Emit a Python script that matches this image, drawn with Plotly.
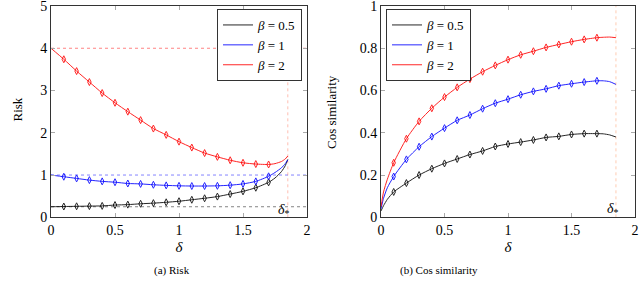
import plotly.graph_objects as go

# ---------------- data ----------------
betas = ["0.5", "1", "2"]
colors = ["#000000", "#0000ff", "#ff0000"]
delta_star = 1.85

# simulation points (markers)
delta_sim = [0.1, 0.2, 0.3, 0.4, 0.5, 0.6, 0.7, 0.8, 0.9, 1.0,
             1.1, 1.2, 1.3, 1.4, 1.5, 1.6, 1.7]
risk_sim_05 = [0.255, 0.26, 0.265, 0.27, 0.29, 0.30, 0.32, 0.335, 0.355, 0.38,
               0.415, 0.45, 0.49, 0.55, 0.614, 0.70, 0.827]
risk_sim_1 = [0.96, 0.92, 0.88, 0.85, 0.83, 0.80, 0.79, 0.77, 0.755, 0.745,
              0.74, 0.74, 0.745, 0.76, 0.79, 0.85, 0.97]
risk_sim_2 = [3.74, 3.46, 3.20, 2.94, 2.71, 2.50, 2.30, 2.10, 1.95, 1.79,
              1.65, 1.52, 1.43, 1.35, 1.29, 1.26, 1.25]
cos_sim_05 = [0.12, 0.162, 0.20, 0.23, 0.255, 0.276, 0.297, 0.314, 0.335, 0.347,
              0.356, 0.366, 0.378, 0.383, 0.392, 0.396, 0.396]
cos_sim_1 = [0.193, 0.274, 0.334, 0.382, 0.422, 0.459, 0.484, 0.514, 0.540, 0.559,
             0.58, 0.596, 0.608, 0.623, 0.632, 0.640, 0.646]
cos_sim_2 = [0.258, 0.372, 0.454, 0.516, 0.569, 0.615, 0.654, 0.689, 0.719, 0.746,
             0.769, 0.786, 0.804, 0.818, 0.831, 0.842, 0.85]

# theory curves (lines)
delta_risk_curve = [0.0, 0.1, 0.2, 0.3, 0.4, 0.5, 0.6, 0.7, 0.8, 0.9, 1.0,
                    1.1, 1.2, 1.3, 1.4, 1.5, 1.6, 1.7, 1.75, 1.8, 1.83, 1.85]
risk_curve_05 = [0.25, 0.255, 0.26, 0.265, 0.27, 0.29, 0.30, 0.32, 0.335, 0.355, 0.38,
                 0.415, 0.45, 0.49, 0.55, 0.614, 0.70, 0.827, 0.93, 1.08, 1.22, 1.37]
risk_curve_1 = [1.0, 0.96, 0.92, 0.88, 0.85, 0.83, 0.80, 0.79, 0.77, 0.755, 0.745,
                0.74, 0.74, 0.745, 0.76, 0.79, 0.85, 0.97, 1.06, 1.17, 1.27, 1.36]
risk_curve_2 = [4.0, 3.74, 3.46, 3.20, 2.94, 2.71, 2.50, 2.30, 2.10, 1.95, 1.79,
                1.65, 1.52, 1.43, 1.35, 1.29, 1.26, 1.25, 1.27, 1.32, 1.38, 1.45]

delta_cos_curve = [0.0, 0.02, 0.05, 0.1, 0.2, 0.3, 0.4, 0.5, 0.6, 0.7, 0.8, 0.9, 1.0,
                   1.1, 1.2, 1.3, 1.4, 1.5, 1.6, 1.7, 1.75, 1.8, 1.85]
cos_curve_05 = [0.03, 0.055, 0.085, 0.12, 0.162, 0.20, 0.23, 0.255, 0.276, 0.297, 0.314,
                0.335, 0.347, 0.356, 0.366, 0.378, 0.383, 0.392, 0.396, 0.396, 0.395, 0.39, 0.38]
cos_curve_1 = [0.04, 0.09, 0.14, 0.193, 0.274, 0.334, 0.382, 0.422, 0.459, 0.484, 0.514,
               0.540, 0.559, 0.58, 0.596, 0.608, 0.623, 0.632, 0.640, 0.646, 0.646, 0.642, 0.629]
cos_curve_2 = [0.05, 0.12, 0.18, 0.258, 0.372, 0.454, 0.516, 0.569, 0.615, 0.654, 0.689,
               0.719, 0.746, 0.769, 0.786, 0.804, 0.818, 0.831, 0.842, 0.85, 0.852, 0.853, 0.85]

risk_levels = [0.25, 1.0, 4.0]   # beta^2 reference lines

x_ticks = [0, 0.5, 1, 1.5, 2]
risk_ticks = [0, 1, 2, 3, 4, 5]
cos_ticks = [0, 0.2, 0.4, 0.6, 0.8, 1]
cos_ticklabels = ["0", "0.2", "0.4", "0.6", "0.8", "1"]

# ---------------- figure ----------------
FONT = "Liberation Serif, DejaVu Serif, serif"
fig = go.Figure()

risk_sims = [risk_sim_05, risk_sim_1, risk_sim_2]
risk_curves = [risk_curve_05, risk_curve_1, risk_curve_2]
cos_sims = [cos_sim_05, cos_sim_1, cos_sim_2]
cos_curves = [cos_curve_05, cos_curve_1, cos_curve_2]

# reference dotted lines
for lvl, c in zip(risk_levels, colors):
    fig.add_trace(go.Scatter(x=[0, 2], y=[lvl, lvl], mode="lines",
                             line=dict(color=c, width=0.8, dash="dot"),
                             opacity=0.6, showlegend=False, hoverinfo="skip",
                             xaxis="x", yaxis="y"))
fig.add_trace(go.Scatter(x=[delta_star, delta_star], y=[0, max(risk_levels)], mode="lines",
                         line=dict(color="#ff6040", width=0.8, dash="dot"), opacity=0.5,
                         showlegend=False, hoverinfo="skip", xaxis="x", yaxis="y"))
fig.add_trace(go.Scatter(x=[delta_star, delta_star], y=[0, 1], mode="lines",
                         line=dict(color="#ff8040", width=0.8, dash="dot"), opacity=0.5,
                         showlegend=False, hoverinfo="skip", xaxis="x2", yaxis="y2"))

for i in range(3):
    name = "<i>β</i> = " + betas[i]
    fig.add_trace(go.Scatter(x=delta_risk_curve, y=risk_curves[i], mode="lines",
                             line=dict(color=colors[i], width=1, shape="spline", smoothing=0.6),
                             opacity=0.85, name=name, legend="legend", xaxis="x", yaxis="y"))
    fig.add_trace(go.Scatter(x=delta_sim, y=risk_sims[i], mode="markers",
                             marker=dict(symbol="diamond-tall-open", size=5,
                                         color=colors[i], line=dict(width=1, color=colors[i])),
                             opacity=0.85, showlegend=False, xaxis="x", yaxis="y"))
    fig.add_trace(go.Scatter(x=delta_cos_curve, y=cos_curves[i], mode="lines",
                             line=dict(color=colors[i], width=1, shape="spline", smoothing=0.6),
                             opacity=0.85, name=name, legend="legend2", xaxis="x2", yaxis="y2"))
    fig.add_trace(go.Scatter(x=delta_sim, y=cos_sims[i], mode="markers",
                             marker=dict(symbol="diamond-tall-open", size=5,
                                         color=colors[i], line=dict(width=1, color=colors[i])),
                             opacity=0.85, showlegend=False, xaxis="x2", yaxis="y2"))

W, H = 640, 285
ydom = [(H - 217.3) / H, (H - 6) / H]

axis_common = dict(showline=True, linecolor="#333333", linewidth=1, mirror="ticks",
                   ticks="inside", ticklen=4, tickcolor="#aaaaaa", showgrid=False,
                   zeroline=False, ticklabeloverflow="allow", automargin=False,
                   tickfont=dict(family=FONT, size=14, color="#000"))

legend_common = dict(y=(H - 9) / H, yanchor="top", bordercolor="#333333", borderwidth=1,
                     bgcolor="white", font=dict(family=FONT, size=13),
                     tracegroupgap=0, itemwidth=30)

fig.update_layout(
    width=W, height=H,
    margin=dict(l=0, r=0, t=0, b=0),
    paper_bgcolor="white", plot_bgcolor="white",
    font=dict(family=FONT, size=13, color="#000"),
    xaxis=dict(domain=[51 / W, 307 / W], range=[0, 2], tickvals=x_ticks,
               ticktext=[str(t) for t in x_ticks],
               title=dict(text="<i>δ</i>", standoff=4, font=dict(size=15)), anchor="y",
               **axis_common),
    yaxis=dict(domain=ydom, range=[0, 5], tickvals=risk_ticks, anchor="x",
               **axis_common),
    xaxis2=dict(domain=[381 / W, 635 / W], range=[0, 2], tickvals=x_ticks,
                ticktext=[str(t) for t in x_ticks],
                title=dict(text="<i>δ</i>", standoff=4, font=dict(size=15)), anchor="y2",
                **axis_common),
    yaxis2=dict(domain=ydom, range=[0, 1], tickvals=cos_ticks, ticktext=cos_ticklabels,
                anchor="x2", **axis_common),
    legend=dict(x=302 / W, xanchor="right", **legend_common),
    legend2=dict(x=386 / W, xanchor="left", **legend_common),
    showlegend=True,
)

# y-axis titles
fig.add_annotation(x=7 / W, y=(H - 110) / H, xref="paper", yref="paper", text="Risk",
                   textangle=-90, showarrow=False, font=dict(family=FONT, size=13))
fig.add_annotation(x=331 / W, y=(H - 112) / H, xref="paper", yref="paper",
                   text="Cos similarity", textangle=-90, showarrow=False,
                   font=dict(family=FONT, size=13))

fig.add_annotation(x=delta_star, y=0.17, xref="x", yref="y", text="<i>δ</i><sub>*</sub>",
                   xshift=-4, showarrow=False, font=dict(family=FONT, size=14))
fig.add_annotation(x=delta_star, y=0.035, xref="x2", yref="y2", text="<i>δ</i><sub>*</sub>",
                   xshift=-3, showarrow=False, font=dict(family=FONT, size=14))
fig.add_annotation(x=152 / W, y=(H - 279) / H, xref="paper", yref="paper", text="(a) Risk",
                   showarrow=False, font=dict(family=FONT, size=11))
fig.add_annotation(x=480 / W, y=(H - 279) / H, xref="paper", yref="paper",
                   text="(b) Cos similarity", showarrow=False, font=dict(family=FONT, size=11))

fig.write_html("out.html",
               config={"displayModeBar": False},
               post_script="document.body.style.margin='0px';"
                           "document.body.style.overflow='hidden';")
